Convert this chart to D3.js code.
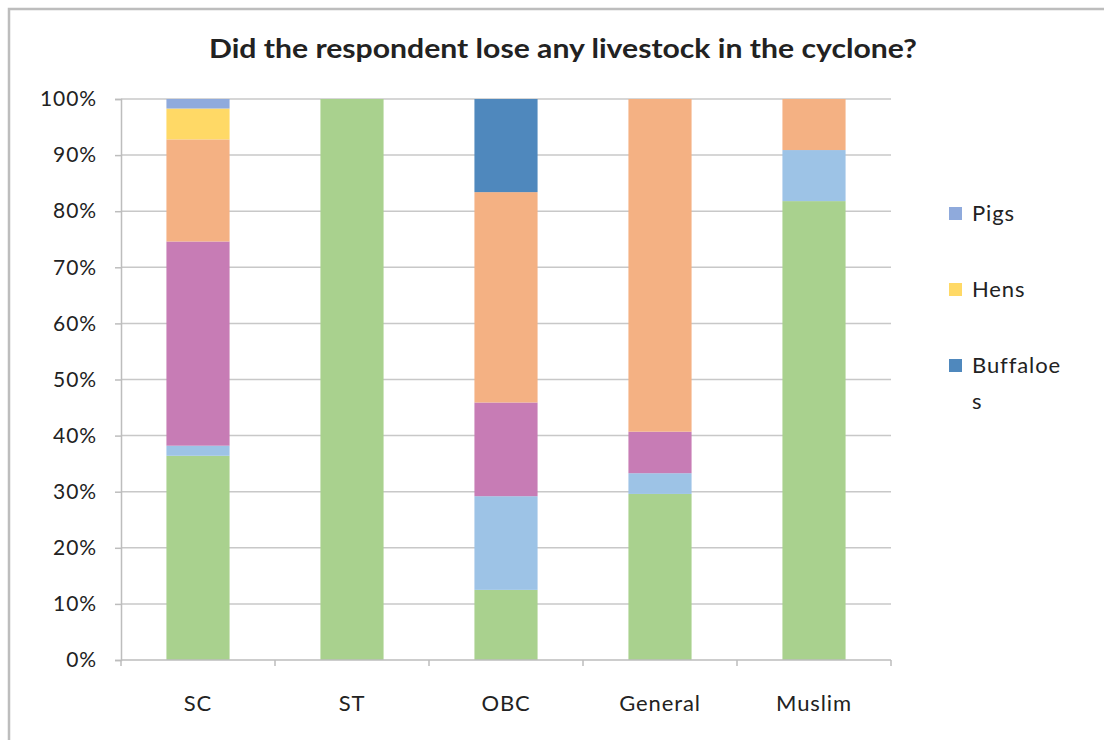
<!DOCTYPE html>
<html>
<head>
<meta charset="utf-8">
<script src="https://cdn.jsdelivr.net/npm/d3@7"></script>
<style>
  html, body { margin: 0; padding: 0; background: #fff; }
  svg { display: block; }
  text { font-family: Lato, "Open Sans", "Liberation Sans", sans-serif; fill: #222; }
</style>
</head>
<body>
<svg id="chart" width="1104" height="740"></svg>
<script>
// Groups surveyed
const categories = ["SC", "ST", "OBC", "General", "Muslim"];

// Share of respondents (%) per livestock response, stacked bottom to top
const seriesNames = ["None", "Goats", "Cows", "Poultry", "Buffaloes", "Hens", "Pigs"];
const noneValues      = [36.4, 100, 12.5, 29.6, 81.8];
const goatsValues     = [1.8,  0,   16.7, 3.7,  9.1];
const cowsValues      = [36.4, 0,   16.7, 7.4,  0];
const poultryValues   = [18.2, 0,   37.5, 59.3, 9.1];
const buffaloesValues = [0,    0,   16.6, 0,    0];
const hensValues      = [5.5,  0,   0,    0,    0];
const pigsValues      = [1.7,  0,   0,    0,    0];

const seriesValues = [noneValues, goatsValues, cowsValues, poultryValues,
                      buffaloesValues, hensValues, pigsValues];
const seriesColors = ["#A9D18E", "#9DC3E6", "#C77CB5", "#F4B183",
                      "#4F88BD", "#FFD966", "#8FAADC"];

// Only the top three series appear in the legend
const legendSeries = ["Pigs", "Hens", "Buffaloes"];
const yTicks = [0, 10, 20, 30, 40, 50, 60, 70, 80, 90, 100];

const svg = d3.select("#chart");

// Frame
svg.append("path")
  .attr("d", "M9,740 V9 H1104")
  .attr("fill", "none")
  .attr("stroke", "#BDBDBD")
  .attr("stroke-width", 2.5);

const plot = { left: 121, right: 891, top: 99, bottom: 660 };

const x = d3.scaleBand().domain(categories).range([plot.left, plot.right]).paddingInner(0.59).paddingOuter(0.295);
const xOuter = d3.scaleBand().domain(categories).range([plot.left, plot.right]);
const y = d3.scaleLinear().domain([0, 100]).range([plot.bottom, plot.top]);

const labelSize = 21;
const labelSpacing = 0.9;

// Gridlines
svg.append("g")
  .selectAll("line")
  .data(yTicks.filter(d => d > 0))
  .join("line")
  .attr("x1", plot.left).attr("x2", plot.right)
  .attr("y1", d => y(d)).attr("y2", d => y(d))
  .attr("stroke", "#C8C8C8").attr("stroke-width", 1.5);

// Stack data
const rows = categories.map((c, i) => {
  const r = { cat: c };
  seriesNames.forEach((s, k) => { r[s] = seriesValues[k][i]; });
  return r;
});
const stacked = d3.stack().keys(seriesNames)(rows);

svg.append("g")
  .selectAll("g")
  .data(stacked)
  .join("g")
  .attr("fill", (d, i) => seriesColors[i])
  .selectAll("rect")
  .data(d => d.filter(p => p[1] - p[0] > 0))
  .join("rect")
  .attr("x", d => x(d.data.cat))
  .attr("width", x.bandwidth())
  .attr("y", d => y(Math.min(100, d[1])))
  .attr("height", d => y(d[0]) - y(Math.min(100, d[1])));

// Y axis
const yAxis = svg.append("g")
  .attr("transform", `translate(${plot.left},0)`)
  .call(d3.axisLeft(y).tickValues(yTicks).tickFormat(d => d + "%").tickSize(6).tickPadding(18));
yAxis.select(".domain").attr("stroke", "#BDBDBD").attr("stroke-width", 1.5);
yAxis.selectAll(".tick line").attr("stroke", "#BDBDBD").attr("stroke-width", 1.5);
yAxis.selectAll(".tick text")
  .attr("font-size", labelSize).attr("fill", "#222")
  .attr("letter-spacing", labelSpacing)
  .attr("font-family", "Lato, 'Open Sans', sans-serif");

// X axis with category boundary ticks
const xg = svg.append("g").attr("transform", `translate(0,${plot.bottom})`);
xg.append("line")
  .attr("x1", plot.left).attr("x2", plot.right)
  .attr("stroke", "#BDBDBD").attr("stroke-width", 1.5);
const bounds = categories.map(c => xOuter(c)).concat([plot.right]);
xg.selectAll("line.b")
  .data(bounds)
  .join("line")
  .attr("class", "b")
  .attr("x1", d => d).attr("x2", d => d)
  .attr("y1", 0).attr("y2", 6)
  .attr("stroke", "#BDBDBD").attr("stroke-width", 1.5);
xg.selectAll("text")
  .data(categories)
  .join("text")
  .attr("x", d => xOuter(d) + xOuter.bandwidth() / 2)
  .attr("y", 51)
  .attr("text-anchor", "middle")
  .attr("font-size", 22)
  .attr("letter-spacing", labelSpacing)
  .text(d => d);

// Title
svg.append("text")
  .attr("x", 563)
  .attr("y", 58)
  .attr("text-anchor", "middle")
  .attr("font-size", 26)
  .attr("font-weight", "bold")
  .attr("fill", "#111")
  .attr("textLength", 708)
  .attr("lengthAdjust", "spacingAndGlyphs")
  .text("Did the respondent lose any livestock in the cyclone?");

// Legend
const legend = svg.append("g");
const legendY = [213, 289, 365];
legendSeries.forEach((name, i) => {
  const k = seriesNames.indexOf(name);
  const g = legend.append("g").attr("transform", `translate(949,${legendY[i]})`);
  g.append("rect").attr("x", 0).attr("y", -6).attr("width", 13).attr("height", 13)
    .attr("fill", seriesColors[k]);
  const t = (txt, dy) => g.append("text").attr("x", 23).attr("y", dy)
    .attr("font-size", 22).attr("letter-spacing", labelSpacing).text(txt);
  if (name === "Buffaloes") {
    t("Buffaloe", 8);
    t("s", 44);
  } else {
    t(name, 8);
  }
});
</script>
</body>
</html>
